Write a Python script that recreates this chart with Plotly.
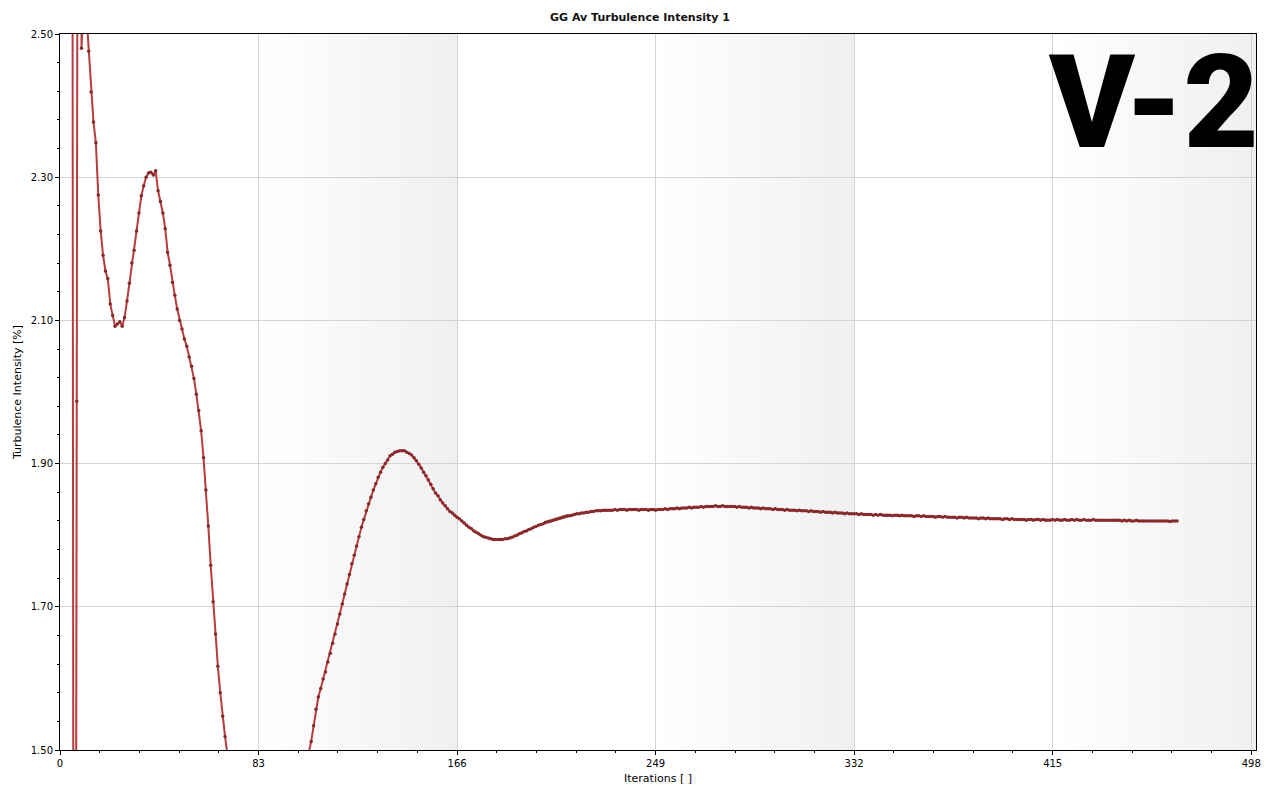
import plotly.graph_objects as go

# ---------------- data ----------------
title_text = "GG Av Turbulence Intensity 1"
x_title = "Iterations [ ]"
y_title = "Turbulence Intensity [%]"
x_tick_vals = [0, 83, 166, 249, 332, 415, 498]
y_tick_vals = [1.50, 1.70, 1.90, 2.10, 2.30, 2.50]
bands = [(83, 166), (249, 332), (415, 500)]
watermark = "V-2"

turb = [
    # 1-12
    9.0, 6.5, 5.0, 3.8, 3.5, -0.2, 1.987, 4.2, 2.48, 2.56, 2.53, 2.476,
    # 13-35
    2.419, 2.377, 2.348, 2.275, 2.225, 2.191, 2.169, 2.158, 2.123, 2.107,
    2.092, 2.095, 2.098, 2.092, 2.104, 2.127, 2.152, 2.180, 2.198, 2.225,
    2.250, 2.274, 2.288,
    # 36-69
    2.300, 2.306, 2.307, 2.303, 2.309, 2.281, 2.266, 2.250, 2.228, 2.195,
    2.177, 2.153, 2.135, 2.116, 2.100, 2.088, 2.074, 2.064, 2.049, 2.036,
    2.019, 1.997, 1.974, 1.946, 1.908, 1.863, 1.813, 1.758, 1.707, 1.662,
    1.617, 1.580, 1.547, 1.519,
    # 70-105
    1.493, 1.468, 1.445, 1.424, 1.404, 1.386, 1.369, 1.354, 1.341, 1.330,
    1.320, 1.312, 1.306, 1.301, 1.298, 1.296, 1.296, 1.298, 1.301, 1.306,
    1.312, 1.320, 1.329, 1.340, 1.352, 1.365, 1.379, 1.394, 1.410, 1.426,
    1.442, 1.458, 1.472, 1.484, 1.496, 1.512,
    # 106-168
    1.534, 1.557, 1.574, 1.586, 1.599, 1.609, 1.623, 1.635, 1.649, 1.662,
    1.676, 1.690, 1.704, 1.718, 1.732, 1.745, 1.760, 1.772, 1.785, 1.798,
    1.811, 1.822, 1.834, 1.844, 1.853, 1.863, 1.872, 1.881, 1.888, 1.895,
    1.900, 1.905, 1.911, 1.913, 1.916, 1.917, 1.918, 1.918, 1.918, 1.916,
    1.914, 1.912, 1.908, 1.904, 1.899, 1.894, 1.888, 1.883, 1.877, 1.871,
    1.865, 1.859, 1.855, 1.849, 1.845, 1.841, 1.837, 1.833, 1.831, 1.828,
    1.825, 1.823, 1.820,
    # 169-230
    1.817, 1.814, 1.811, 1.809, 1.806, 1.804, 1.802, 1.800, 1.798, 1.797,
    1.796, 1.795, 1.794, 1.794, 1.794, 1.794, 1.794, 1.795, 1.795, 1.796,
    1.797, 1.799, 1.800, 1.802, 1.803, 1.805, 1.806, 1.808, 1.809, 1.811,
    1.812, 1.814, 1.815, 1.816, 1.818, 1.819, 1.820, 1.821, 1.822, 1.823,
    1.824, 1.825, 1.826, 1.827, 1.827, 1.828, 1.829, 1.830, 1.830, 1.831,
    1.831, 1.832, 1.832, 1.833, 1.833, 1.834, 1.834, 1.834, 1.835, 1.835,
    1.835, 1.835,
    # 231-330
    1.835, 1.836, 1.835, 1.836, 1.836, 1.836, 1.835, 1.836, 1.836, 1.836,
    1.836, 1.835, 1.836, 1.836, 1.836, 1.835, 1.836, 1.836, 1.835, 1.836,
    1.836, 1.836, 1.837, 1.836, 1.837, 1.837, 1.837, 1.838, 1.837, 1.838,
    1.838, 1.838, 1.839, 1.838, 1.839, 1.839, 1.839, 1.840, 1.839, 1.840,
    1.840, 1.840, 1.840, 1.841, 1.840, 1.840, 1.841, 1.840, 1.840, 1.840,
    1.840, 1.840, 1.839, 1.840, 1.839, 1.839, 1.839, 1.838, 1.839, 1.838,
    1.838, 1.838, 1.837, 1.838, 1.837, 1.837, 1.837, 1.836, 1.837, 1.836,
    1.836, 1.836, 1.835, 1.836, 1.835, 1.835, 1.835, 1.834, 1.835, 1.834,
    1.834, 1.834, 1.833, 1.834, 1.833, 1.833, 1.833, 1.832, 1.833, 1.832,
    1.832, 1.832, 1.831, 1.832, 1.831, 1.831, 1.831, 1.830, 1.831, 1.830,
    # 331-370
    1.830, 1.830, 1.830, 1.829, 1.830, 1.829, 1.829, 1.829, 1.829, 1.828,
    1.829, 1.828, 1.829, 1.828, 1.828, 1.828, 1.828, 1.827, 1.828, 1.828,
    1.827, 1.828, 1.827, 1.827, 1.827, 1.827, 1.826, 1.827, 1.827, 1.826,
    1.827, 1.826, 1.826, 1.826, 1.826, 1.825, 1.826, 1.826, 1.825, 1.826,
    # 371-415
    1.825, 1.825, 1.825, 1.825, 1.824, 1.825, 1.825, 1.824, 1.825, 1.824,
    1.824, 1.824, 1.824, 1.823, 1.824, 1.824, 1.823, 1.824, 1.823, 1.823,
    1.823, 1.823, 1.823, 1.822, 1.823, 1.823, 1.822, 1.823, 1.822, 1.822,
    1.822, 1.822, 1.822, 1.821, 1.822, 1.822, 1.821, 1.822, 1.822, 1.821,
    1.822, 1.821, 1.821, 1.821, 1.822,
    # 416-467
    1.821, 1.822, 1.821, 1.821, 1.822, 1.821, 1.821, 1.822, 1.821, 1.822,
    1.821, 1.821, 1.822, 1.821, 1.821, 1.821, 1.822, 1.821, 1.821, 1.821,
    1.821, 1.821, 1.821, 1.821, 1.821, 1.821, 1.821, 1.821, 1.820, 1.821,
    1.820, 1.821, 1.820, 1.820, 1.821, 1.820, 1.820, 1.820, 1.820, 1.820,
    1.820, 1.820, 1.820, 1.820, 1.820, 1.820, 1.820, 1.820, 1.819, 1.820,
    1.820, 1.820,
]
iterations = list(range(1, len(turb) + 1))

# ---------------- figure ----------------
FONT = "DejaVu Sans"
fig = go.Figure()
fig.add_trace(go.Scatter(
    x=iterations, y=turb, mode="lines+markers",
    line=dict(color="#b83b3d", width=2),
    marker=dict(color="#862a2c", size=3.5),
    cliponaxis=True, showlegend=False, hoverinfo="x+y",
))

# gradient background bands (drawn below the grid)
shapes = []
steps = 40
for a, b in bands:
    for i in range(steps):
        g = int(round(255 - 16 * (i + 0.5) / steps))
        shapes.append(dict(
            type="rect", xref="x", yref="paper", layer="below",
            x0=a + (b - a) * i / steps, x1=a + (b - a) * (i + 1) / steps + 0.05,
            y0=0, y1=1, line=dict(width=0),
            fillcolor=f"rgb({g},{g},{g})",
        ))

fig.update_layout(
    width=1280, height=800,
    margin=dict(l=60, r=24, t=34, b=50, autoexpand=False),
    paper_bgcolor="white", plot_bgcolor="white",
    font=dict(family=FONT, size=10, color="black"),
    title=dict(text=title_text, x=0.5, xref="container", xanchor="center",
               y=1 - 17 / 800, yref="container", yanchor="middle",
               font=dict(family=FONT, size=11, weight="bold", color="#111111")),
    shapes=shapes,
    annotations=[dict(
        text=watermark, xref="paper", yref="paper", x=1.0, y=0.905,
        xanchor="right", yanchor="middle", showarrow=False, xshift=5,
        font=dict(family="Roboto", size=130, weight=900, color="black"),
    )],
)
fig.update_xaxes(
    range=[0, 500], tickmode="array", tickvals=x_tick_vals,
    ticks="outside", ticklen=4, tickcolor="black",
    showline=True, linecolor="black", linewidth=1, mirror=True,
    showgrid=True, gridcolor="#d4d4d4", gridwidth=1, zeroline=False,
    minor=dict(tick0=0, dtick=16.6, ticks="outside", ticklen=2, tickcolor="black", showgrid=False),
    title=dict(text=x_title, font=dict(family=FONT, size=11), standoff=6),
    tickfont=dict(family=FONT, size=10), automargin=False,
)
fig.update_yaxes(
    range=[1.5, 2.5], tickmode="array", tickvals=y_tick_vals,
    tickformat=".2f",
    ticks="outside", ticklen=4, tickcolor="black",
    showline=True, linecolor="black", linewidth=1, mirror=True,
    showgrid=True, gridcolor="#d4d4d4", gridwidth=1, zeroline=False,
    minor=dict(tick0=1.5, dtick=0.04, ticks="outside", ticklen=2, tickcolor="black", showgrid=False),
    title=dict(text=y_title, font=dict(family=FONT, size=11), standoff=6),
    tickfont=dict(family=FONT, size=10), automargin=False,
)

fig.write_html("out.html", config={"displayModeBar": False},
               post_script="document.body.style.margin='0';")
